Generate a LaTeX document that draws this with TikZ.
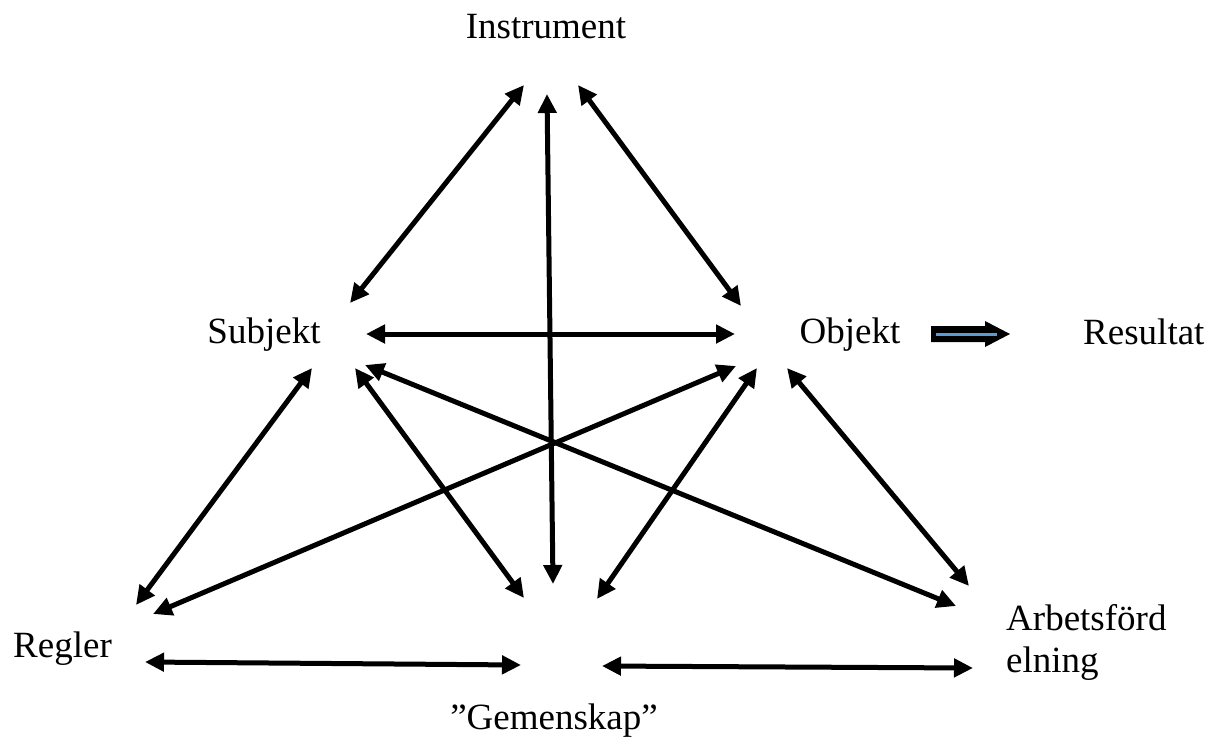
\documentclass[tikz,border=0pt]{standalone}
\usepackage{fontspec}
\setmainfont{Liberation Serif}
\usetikzlibrary{arrows.meta}
\begin{document}
\begin{tikzpicture}[x=1pt,y=-1pt,
  lbl/.style={inner sep=0pt,font=\fontsize{37}{42}\selectfont},
  rel/.style={line width=5pt,{Triangle[length=19pt,width=18pt]}-{Triangle[length=19pt,width=18pt]}}]
\useasboundingbox (0,0) rectangle (1206,742);
% labels
\node[lbl,anchor=base] (instr) at (546,38) {Instrument};
\node[lbl,anchor=base] (subj) at (264,343) {Subjekt};
\node[lbl,anchor=base] (obj) at (850,343) {Objekt};
\node[lbl,anchor=base west] (res) at (1083,344) {Resultat};
\node[lbl,anchor=base west] (regl) at (13,657) {Regler};
\node[lbl,anchor=base] (gem) at (554,729) {”Gemenskap”};
\node[lbl,anchor=base west] (arb1) at (1006,630) {Arbetsförd};
\node[lbl,anchor=base west] (arb2) at (1006,672) {elning};
% endpoints
\coordinate (iS) at (524,85);  \coordinate (sI) at (350,303);
\coordinate (iV) at (547,94);  \coordinate (gV) at (553,584);
\coordinate (iO) at (578,85);  \coordinate (oI) at (741,306);
\coordinate (sO) at (366,334); \coordinate (oS) at (735,334);
\coordinate (rS) at (136,605); \coordinate (sR) at (312,368);
\coordinate (rO) at (153,614); \coordinate (oR) at (736,366);
\coordinate (sG) at (355,368); \coordinate (gS) at (524,598);
\coordinate (sA) at (365,365); \coordinate (aS) at (956,606);
\coordinate (oG) at (757,368); \coordinate (gO) at (597,599);
\coordinate (oA) at (787,368); \coordinate (aO) at (969,586);
\coordinate (rG) at (145,662); \coordinate (gR) at (521,665);
\coordinate (gA) at (602,666); \coordinate (aG) at (973,668);
\draw[rel] (iS) -- (sI);
\draw[rel] (iV) -- (gV);
\draw[rel] (iO) -- (oI);
\draw[rel] (sO) -- (oS);
\draw[rel] (rS) -- (sR);
\draw[rel] (rO) -- (oR);
\draw[rel] (sG) -- (gS);
\draw[rel] (sA) -- (aS);
\draw[rel] (oG) -- (gO);
\draw[rel] (oA) -- (aO);
\draw[rel] (rG) -- (gR);
\draw[rel] (gA) -- (aG);
% result block arrow
\fill[black] (931,326) -- (985,326) -- (985,321) -- (1010,334) -- (985,347) -- (985,342) -- (931,342) -- cycle;
\draw[line width=3pt,draw={rgb,255:red,91;green,155;blue,213}] (936,334) -- (997,334);
\end{tikzpicture}
\end{document}
